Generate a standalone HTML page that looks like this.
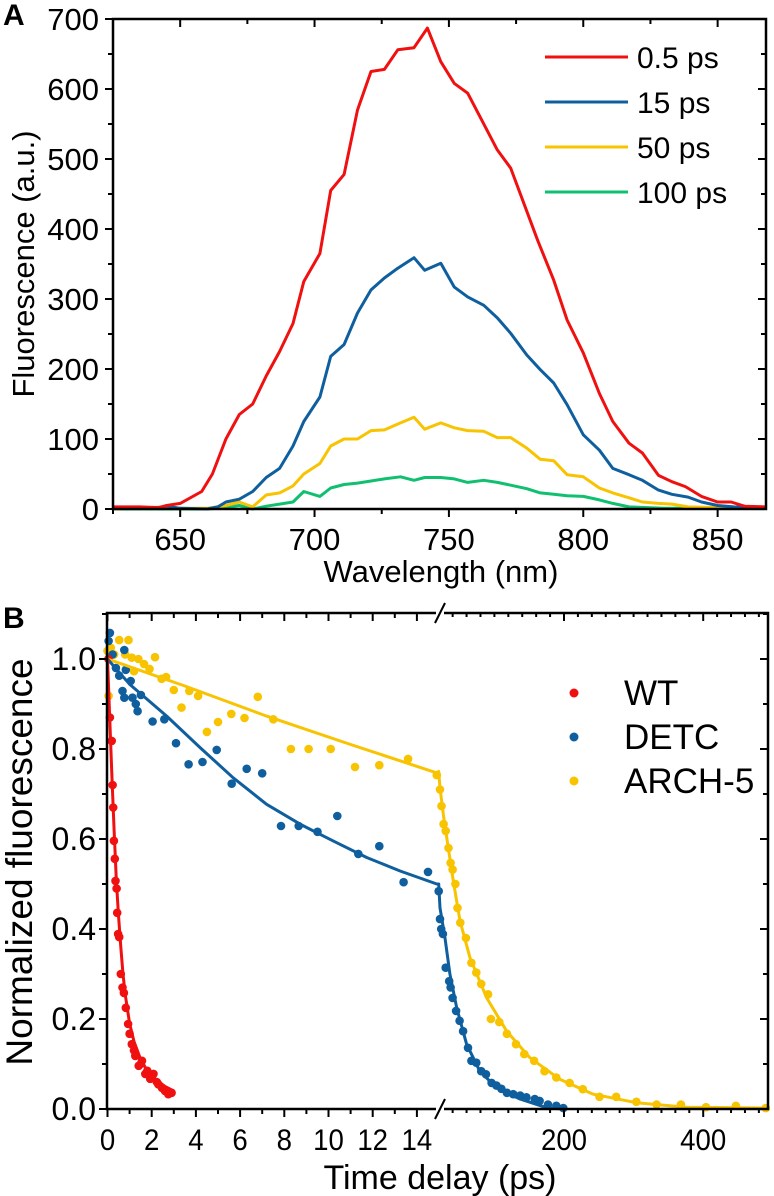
<!DOCTYPE html>
<html><head><meta charset="utf-8"><style>
html,body{margin:0;padding:0;background:#fff;}
svg{display:block;font-family:"Liberation Sans",Arial,sans-serif;}
</style></head><body>
<svg id="fig" width="774" height="1196" viewBox="0 0 774 1196" xmlns="http://www.w3.org/2000/svg">
<g id="panelA"></g>
<g id="panelB"></g>
</svg>
<script>
// ---------- Panel A data ----------
const wlRed = [625,635,642,645,650,658,662,667,672,677,682,687,692,696,702,706,711,716,721,726,731,737,742,747,752,757,768,773,783,789,794,800,806,811,817,822,828,833,838,844,850,855,860,868];
const valRed = [3,3,2,5,8,25,50,100,135,150,190,225,265,325,365,455,478,570,625,628,656,659,687,639,608,594,513,487,384,327,270,223,165,125,94,80,48,39,32,18,10,10,4,3];
const wlBlue = [625,640,645,650,660,664,667,672,677,682,687,692,696,702,706,711,716,721,726,731,737,741,747,752,757,763,768,773,779,784,789,794,800,806,811,817,822,828,833,839,844,850,856,868];
const valBlue = [2,1,4,1,0,3,10,14,25,45,58,90,125,160,218,235,280,313,330,344,359,341,351,317,303,291,273,251,220,199,180,149,106,84,58,49,41,27,21,17,10,5,3,2];
const wlYellow = [625,645,650,660,667,672,677,682,687,692,696,702,706,711,716,721,726,732,737,741,747,752,757,763,768,773,779,784,789,794,800,806,811,817,822,828,833,839,850,868];
const valYellow = [0,3,1,1,5,10,3,20,23,33,50,65,90,100,100,112,113,123,131,114,123,116,112,111,102,102,87,71,69,49,46,30,23,16,10,8,7,3,2,1];
const wlGreen = [625,660,667,672,677,682,687,692,696,702,706,711,716,721,726,732,737,741,747,752,757,763,768,773,779,784,789,794,800,806,811,817,830,868];
const valGreen = [0,0,2,5,0,4,7,10,25,18,30,35,37,40,43,46,41,45,45,43,38,41,38,34,29,23,21,19,18,13,8,3,1,1];
const aXTicks = [650,700,750,800,850];
const aYTicks = [0,100,200,300,400,500,600,700];
const aLegend = ["0.5 ps","15 ps","50 ps","100 ps"];

// ---------- Panel B data ----------
const tWT = [0.04,0.11,0.19,0.23,0.26,0.29,0.33,0.36,0.41,0.44,0.48,0.53,0.6,0.68,0.74,0.83,0.93,1.0,1.1,1.26,1.41,1.56,1.71,1.93,2.08,2.23,2.46,2.6,2.75,2.9,1.2,1.5,1.8,2.0,2.3,2.7];
const vWT = [1.0,0.87,0.818,0.72,0.67,0.596,0.556,0.507,0.49,0.436,0.389,0.382,0.30,0.27,0.258,0.225,0.189,0.167,0.144,0.118,0.096,0.107,0.078,0.067,0.078,0.06,0.047,0.04,0.033,0.036,0.13,0.1,0.085,0.07,0.055,0.04];
const tWTfit = [0,0.1,0.2,0.3,0.4,0.5,0.6,0.7,0.8,1.0,1.2,1.5,1.8,2.2,2.6,3.0];
const vWTfit = [1.0,0.87,0.74,0.62,0.51,0.43,0.36,0.30,0.255,0.19,0.15,0.11,0.085,0.065,0.05,0.04];
const tDETC = [0.05,0.11,0.23,0.38,0.53,0.76,0.83,1.05,0.68,0.76,1.13,1.28,1.36,1.51,2.04,2.57,3.1,3.67,4.3,4.94,5.62,6.3,7.0,7.85,8.65,9.5,10.4,11.35,12.3,13.4,14.5,
  20,21.8,23.5,26,30,35,37,40,45,50,55,62,67,74,81,88,96,103,110,118,127,137,146,158,165,177,189,199];
const vDETC = [1.04,1.058,1.01,0.98,0.963,1.02,0.976,0.951,0.929,0.914,0.914,0.9,0.884,0.92,0.861,0.866,0.813,0.766,0.771,0.798,0.723,0.756,0.746,0.629,0.629,0.616,0.651,0.567,0.584,0.504,0.527,
  0.484,0.422,0.40,0.389,0.314,0.284,0.27,0.247,0.218,0.196,0.173,0.136,0.107,0.103,0.084,0.077,0.058,0.052,0.045,0.036,0.033,0.03,0.026,0.022,0.018,0.01,0.007,0.002];
const tDETCfit = [0,1.0,2.68,4.19,5.69,7.2,8.71,10.2,11.73,13.24,14.9,20,21.8,29,36,45.8,60,79,103,137,175,200];
const vDETCfit = [1.0,0.944,0.873,0.803,0.736,0.677,0.633,0.596,0.559,0.529,0.50,0.50,0.447,0.38,0.30,0.225,0.144,0.084,0.047,0.022,0.003,0.0];
const tARCH = [0.05,0,0.15,0.3,0.53,0.95,0.8,1.1,1.2,1.4,1.65,1.9,2.15,2.45,2.65,3.0,3.35,3.7,4.1,4.5,5.0,5.6,6.2,6.8,7.5,8.3,9.1,10.1,11.2,12.3,13.6,14.9,
  21.8,24,27,30,34,37,40,44,47,51,59,67,74,81,91,95,107,118,131,143,157,172,189,208,227,251,275,304,333,368,404,447,490];
const vARCH = [0.918,1.018,1.025,1.01,1.042,1.042,1.01,1.003,0.973,1.0,0.989,0.978,1.004,0.956,0.96,0.931,0.892,0.929,0.918,0.838,0.86,0.878,0.869,0.916,0.866,0.80,0.80,0.80,0.76,0.764,0.778,0.742,
  0.71,0.673,0.633,0.618,0.58,0.547,0.532,0.5,0.447,0.414,0.38,0.325,0.303,0.278,0.255,0.2,0.193,0.167,0.144,0.122,0.107,0.084,0.07,0.058,0.044,0.027,0.027,0.016,0.01,0.01,0.004,0.007,0.002];
const tARCHfit = [0,3.5,7.2,11,14.9,20,21.8,26.6,33.8,41,50.6,65,89,117.7,151,194,242,304,376,491];
const vARCHfit = [1.0,0.94,0.873,0.81,0.747,0.75,0.714,0.655,0.58,0.507,0.418,0.336,0.247,0.173,0.114,0.066,0.033,0.014,0.004,0.002];
const bXTicks1 = [0,2,4,6,8,10,12,14];
const bXTicks2 = [200,400];
const bYTicks = [0.0,0.2,0.4,0.6,0.8,1.0];
const bLegend = ["WT","DETC","ARCH-5"];

const NS="http://www.w3.org/2000/svg";
function mk(tag,parent,attrs){const e=document.createElementNS(NS,tag);for(const k in attrs)e.setAttribute(k,attrs[k]);parent.appendChild(e);return e;}
const C={red:"#f01010",blue:"#0f5f9f",yellow:"#f8c300",green:"#10c070"};

// ---------- Panel A ----------
const A=document.getElementById('panelA');
const aL=113,aR=766,aT=19,aB=509;
const ax=w=>aL+(w-625)*(aR-aL)/(868-625);
const ay=v=>aB-v*(aB-aT)/700;
function aLine(ws,vs,col,name){
  const p=mk('polyline',A,{points:ws.map((w,i)=>ax(w).toFixed(1)+','+ay(vs[i]).toFixed(1)).join(' '),fill:'none',stroke:col,'stroke-width':3,'stroke-linejoin':'round'});
  
  
}
aLine(wlGreen,valGreen,C.green,'line-100ps');
aLine(wlYellow,valYellow,C.yellow,'line-50ps');
aLine(wlBlue,valBlue,C.blue,'line-15ps');
aLine(wlRed,valRed,C.red,'line-0-5ps');
const fa=mk('rect',A,{x:aL,y:aT,width:aR-aL,height:aB-aT,fill:'none',stroke:'#000','stroke-width':2.5});

for(let w=625;w<=868;w+=25){
  const big=(w%50===0);const l=big?8:5;
  mk('line',A,{x1:ax(w),x2:ax(w),y1:aB,y2:aB+l,stroke:'#000','stroke-width':2});
  mk('line',A,{x1:ax(w),x2:ax(w),y1:aT,y2:aT+l,stroke:'#000','stroke-width':2});
}
aXTicks.forEach(w=>{const t=mk('text',A,{x:ax(w),y:550,'font-size':31,'text-anchor':'middle'});t.textContent=w;
  });
for(let v=0;v<=700;v+=50){const big=v%100===0;const l=big?8:5;
  mk('line',A,{x1:aL-l,x2:aL,y1:ay(v),y2:ay(v),stroke:'#000','stroke-width':2});
  mk('line',A,{x1:aR-l,x2:aR,y1:ay(v),y2:ay(v),stroke:'#000','stroke-width':2});}
aYTicks.forEach(v=>{const t=mk('text',A,{x:99,y:ay(v)+11,'font-size':31,'text-anchor':'end'});t.textContent=v;
  });
let t;
t=mk('text',A,{x:441,y:582,'font-size':31,'text-anchor':'middle'});t.textContent='Wavelength (nm)';

t=mk('text',A,{x:0,y:0,'font-size':31,'text-anchor':'middle',transform:'translate(34,264) rotate(-90)'});t.textContent='Fluorescence (a.u.)';

t=mk('text',A,{x:3,y:25,'font-size':30,'font-weight':'bold'});t.textContent='A';

[C.red,C.blue,C.yellow,C.green].forEach((c,i)=>{const y=57+i*45;
  const l=mk('line',A,{x1:545,x2:628,y1:y,y2:y,stroke:c,'stroke-width':3});
  
  const tt=mk('text',A,{x:637,y:y+11,'font-size':30});tt.textContent=aLegend[i];
  });

// ---------- Panel B ----------
const B=document.getElementById('panelB');
const bL=107,bR=768,bT=613,bB=1109,bBreak=440;
const bx=tv=>tv<=15? 107.5+tv*22.1 : 564+(tv-200)*0.696;
const by=v=>bB-v*450;
function bFit(ts,vs,col,name){
  const pts=ts.map((tv,i)=>bx(tv).toFixed(1)+','+by(vs[i]).toFixed(1));
  const p=mk('polyline',B,{points:pts.join(' '),fill:'none',stroke:col,'stroke-width':3,'stroke-linejoin':'round'});
  
  
}
function bDots(ts,vs,col,name){
  const g=mk('g',B,{fill:col});
  
  
  ts.forEach((tv,i)=>{const c=mk('circle',g,{cx:bx(tv).toFixed(1),cy:by(vs[i]).toFixed(1),r:4.3});
    });
}
bDots(tARCH,vARCH,C.yellow,'arch5-points');
bDots(tDETC,vDETC,C.blue,'detc-points');
bDots(tWT,vWT,C.red,'wt-points');
bFit(tARCHfit,vARCHfit,C.yellow,'arch5-fit');
bFit(tDETCfit,vDETCfit,C.blue,'detc-fit');
bFit(tWTfit,vWTfit,C.red,'wt-fit');
const fb=mk('rect',B,{x:bL,y:bT,width:bR-bL,height:bB-bT,fill:'none',stroke:'#000','stroke-width':2.5});

for(let tv=0;tv<=14;tv++){const l=tv%2===0?8:5;
  mk('line',B,{x1:bx(tv),x2:bx(tv),y1:bB,y2:bB+l,stroke:'#000','stroke-width':2});
  mk('line',B,{x1:bx(tv),x2:bx(tv),y1:bT,y2:bT+l,stroke:'#000','stroke-width':2});}
for(let tv=40;tv<=480;tv+=20){const l=tv%200===0?8:4;
  mk('line',B,{x1:bx(tv),x2:bx(tv),y1:bB,y2:bB+l,stroke:'#000','stroke-width':2});
  mk('line',B,{x1:bx(tv),x2:bx(tv),y1:bT,y2:bT+l,stroke:'#000','stroke-width':2});}
for(let v=0;v<=1.1;v+=0.1){const big=Math.round(v*10)%2===0;const l=big?8:5;
  mk('line',B,{x1:bL-l,x2:bL,y1:by(v),y2:by(v),stroke:'#000','stroke-width':2});
  mk('line',B,{x1:bR-l,x2:bR,y1:by(v),y2:by(v),stroke:'#000','stroke-width':2});}
[bT,bB].forEach(y=>{mk('rect',B,{x:bBreak-4,y:y-3,width:8,height:6,fill:'#fff'});
  const s=mk('line',B,{x1:bBreak-5,x2:bBreak+5,y1:y+10,y2:y-10,stroke:'#000','stroke-width':2});
  });
bXTicks1.concat(bXTicks2).forEach(tv=>{const tt=mk('text',B,{x:bx(tv),y:1150,'font-size':30,'text-anchor':'middle',transform:'translate('+bx(tv)+',0) scale(0.92,1) translate('+(-bx(tv))+',0)'});tt.textContent=tv;
  });
bYTicks.forEach(v=>{const tt=mk('text',B,{x:96,y:by(v)+11,'font-size':32,'text-anchor':'end'});tt.textContent=v.toFixed(1);
  });
t=mk('text',B,{x:440,y:1189,'font-size':34,'text-anchor':'middle'});t.textContent='Time delay (ps)';

t=mk('text',B,{x:0,y:0,'font-size':37,'text-anchor':'middle',transform:'translate(32,862) rotate(-90)'});t.textContent='Normalized fluorescence';

t=mk('text',B,{x:3,y:628,'font-size':30,'font-weight':'bold'});t.textContent='B';

[C.red,C.blue,C.yellow].forEach((c,i)=>{const y=693+i*44;
  const d=mk('circle',B,{cx:574,cy:y,r:4.5,fill:c});
  
  const tt=mk('text',B,{x:624,y:y+12,'font-size':35});tt.textContent=bLegend[i];
  });
</script>
</body></html>
